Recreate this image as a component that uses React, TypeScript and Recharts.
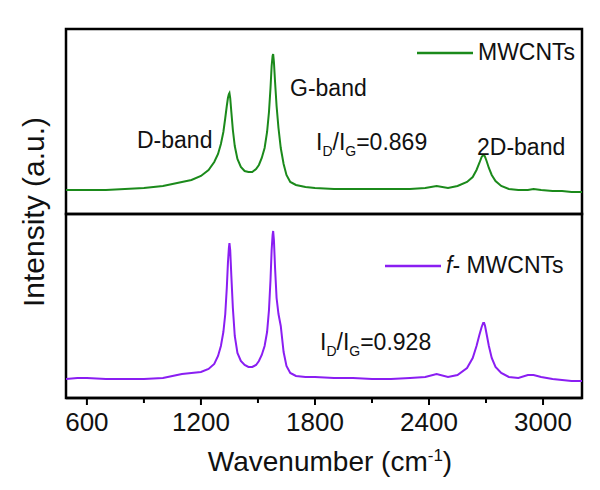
import { LineChart, Line, XAxis, YAxis, Legend, ReferenceArea } from "recharts";

// Raman shift grid (cm-1), shared by both spectra
const wavenumber = [
  490, 550, 600, 700, 800, 900, 1000, 1050, 1100, 1150,
  1200, 1240, 1270, 1290, 1305, 1318, 1328, 1336, 1342, 1347,
  1350, 1354, 1360, 1368, 1378, 1392, 1410, 1430, 1450, 1470,
  1490, 1505, 1520, 1535, 1548, 1558, 1566, 1572, 1577, 1580,
  1584, 1590, 1598, 1608, 1620, 1635, 1650, 1670, 1700, 1750,
  1800, 1900, 2000, 2100, 2200, 2300, 2380, 2440, 2500, 2550,
  2600, 2630, 2650, 2665, 2677, 2685, 2690, 2695, 2703, 2715,
  2730, 2750, 2780, 2820, 2870, 2920, 2950, 2990, 3050, 3100,
  3150, 3205,
];

const mwcnts = [
  24, 24, 24, 24, 25, 26, 28, 30, 32, 34,
  38, 44, 52, 60, 70, 82, 96, 108, 116, 120,
  121, 116, 102, 84, 68, 55, 47, 43, 42, 42,
  45, 49, 56, 66, 82, 102, 126, 148, 158, 160,
  152, 132, 108, 86, 66, 50, 39, 32, 29, 27,
  26, 25, 25, 25, 25, 25, 26, 28, 26, 28,
  32, 37, 44, 51, 57, 59, 59, 57, 53, 46,
  39, 33, 28, 25, 24, 24, 25, 24, 23, 23,
  22, 22,
];

const fMwcnts = [
  19, 20, 20, 19, 19, 19, 20, 22, 24, 25,
  26, 29, 34, 42, 52, 66, 84, 110, 135, 150,
  155, 148, 122, 90, 62, 45, 37, 33, 31, 31,
  33, 37, 43, 52, 66, 88, 118, 148, 163, 167,
  158, 130, 100, 84, 72, 46, 32, 25, 22, 21,
  21, 20, 20, 19, 19, 20, 21, 24, 21, 23,
  30, 40, 52, 63, 71, 75, 75, 72, 64, 52,
  40, 31, 25, 21, 20, 23, 23, 21, 19, 18,
  17, 17,
];

const xTicks = [600, 900, 1200, 1500, 1800, 2100, 2400, 2700, 3000];
const xDomain = [490, 3205];

const GREEN = "#1b8a1b";
const PURPLE = "#8a1ef2";
const FONT = '"Liberation Sans", Arial, sans-serif';

const topData = wavenumber.map((w, i) => ({ w, v: mwcnts[i] }));
const bottomData = wavenumber.map((w, i) => ({ w, v: fMwcnts[i] }));

function XTick({ x, y, payload }: any) {
  const major = payload.value % 600 === 0;
  return (
    <g>
      <line x1={x} x2={x} y1={y} y2={y + (major ? 7 : 5)} stroke="#000" strokeWidth={2} />
      {major && (
        <text x={x} y={y + 33} textAnchor="middle" fontSize={26} fontFamily={FONT} fill="#111">
          {payload.value}
        </text>
      )}
    </g>
  );
}

function legendContent(color: string, label: React.ReactNode) {
  return () => (
    <div style={{ display: "flex", alignItems: "center", fontFamily: FONT, fontSize: 23, color: "#111", whiteSpace: "nowrap" }}>
      <svg width={56} height={10} style={{ marginRight: 5 }}>
        <line x1={0} x2={56} y1={5} y2={5} stroke={color} strokeWidth={2.5} />
      </svg>
      {label}
    </div>
  );
}

function Panel({ data, color, yMax, bottom, legend, legendTop }: any) {
  return (
    <LineChart
      width={600}
      height={bottom ? 290 : 230}
      data={data}
      margin={{ top: bottom ? 14 : 29, right: 18, bottom: bottom ? 0 : 16, left: 66 }}
    >
      <XAxis
        dataKey="w"
        type="number"
        domain={xDomain}
        ticks={xTicks}
        allowDataOverflow
        height={bottom ? 92 : 0}
        axisLine={{ stroke: "#000", strokeWidth: 2.5 }}
        tickLine={false}
        tickSize={0}
        tickMargin={0}
        tick={bottom ? <XTick /> : false}
      />
      <YAxis domain={[0, yMax]} width={0} hide />
      <ReferenceArea
        x1={xDomain[0]}
        x2={xDomain[1]}
        y1={0}
        y2={yMax}
        fill="none"
        fillOpacity={0}
        stroke="#000"
        strokeWidth={2.5}
        ifOverflow="visible"
      />
      <Legend
        layout="vertical"
        align="center"
        verticalAlign="middle"
        wrapperStyle={{ top: legendTop, left: bottom ? 385 : 417, width: 200 }}
        content={legendContent(color, legend)}
      />
      <Line dataKey="v" stroke={color} strokeWidth={2} dot={false} type="linear" isAnimationActive={false} />
    </LineChart>
  );
}

const note: React.CSSProperties = { position: "absolute", fontSize: 23, whiteSpace: "nowrap", lineHeight: 1 };
const sub: React.CSSProperties = { fontSize: 14 };

export default function App() {
  return (
    <div style={{ position: "absolute", left: 0, top: 0, width: 600, height: 490, background: "#fff", fontFamily: FONT, color: "#111" }}>
      <div style={{ position: "absolute", left: 0, top: 0 }}>
        <Panel data={topData} color={GREEN} yMax={185} legend="MWCNTs" legendTop={39} />
      </div>
      <div style={{ position: "absolute", left: 0, top: 200 }}>
        <Panel
          data={bottomData}
          color={PURPLE}
          yMax={184}
          bottom
          legendTop={52}
          legend={<span><i>f</i>- MWCNTs</span>}
        />
      </div>

      <div style={{ ...note, left: 137, top: 129 }}>D-band</div>
      <div style={{ ...note, left: 290, top: 77 }}>G-band</div>
      <div style={{ ...note, left: 316, top: 131 }}>
        I<sub style={sub}>D</sub>/I<sub style={sub}>G</sub>=0.869
      </div>
      <div style={{ ...note, left: 477, top: 136 }}>2D-band</div>
      <div style={{ ...note, left: 320, top: 331 }}>
        I<sub style={sub}>D</sub>/I<sub style={sub}>G</sub>=0.928
      </div>

      <div
        style={{
          position: "absolute",
          left: 34,
          top: 212,
          transform: "translate(-50%, -50%) rotate(-90deg)",
          fontSize: 30,
          whiteSpace: "nowrap",
        }}
      >
        Intensity (a.u.)
      </div>
      <div
        style={{
          position: "absolute",
          left: 330,
          top: 462,
          transform: "translate(-50%, -50%)",
          fontSize: 28,
          whiteSpace: "nowrap",
        }}
      >
        Wavenumber (cm<sup style={{ fontSize: 17 }}>-1</sup>)
      </div>
    </div>
  );
}
